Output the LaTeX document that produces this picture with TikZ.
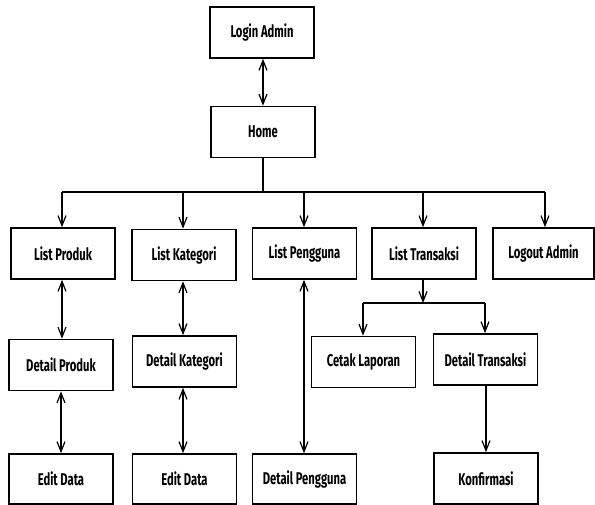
\documentclass[tikz,border=0pt]{standalone}
\usepackage{fontspec}
\setmainfont{Fira Sans}[FakeStretch=0.66]
\usetikzlibrary{arrows.meta}
\tikzset{
  box/.style={draw, line width=1.6pt, minimum width=104pt, minimum height=51pt, inner sep=0pt,
    font=\fontsize{17}{20}\selectfont\bfseries},
  conn/.style={line width=1.2pt},
  tip/.style={conn, -{Straight Barb[length=10pt,width=8pt,line width=1.2pt]}},
  both/.style={conn, {Straight Barb[length=10pt,width=8pt,line width=1.2pt]}-{Straight Barb[length=10pt,width=8pt,line width=1.2pt]}}
}
\begin{document}
\begin{tikzpicture}[x=1pt,y=-1pt]
\useasboundingbox (0,0) rectangle (595,504);
% top
\node[box] (login) at (262,32.5) {Login Admin};
\node[box] (home) at (263,132) {Home};
% list row
\node[box] (lprod) at (63,253.5) {List Produk};
\node[box] (lkat) at (184,255) {List Kategori};
\node[box] (lpeng) at (304.5,253.5) {List Pengguna};
\node[box] (ltrans) at (424,253.5) {List Transaksi};
\node[box, minimum width=101pt] (logout) at (543.5,253.5) {Logout Admin};
% middle row
\node[box] (dprod) at (61,365) {Detail Produk};
\node[box] (dkat) at (184.5,361.5) {Detail Kategori};
\node[box] (cetak) at (363.5,362) {Cetak Laporan};
\node[box] (dtrans) at (485.5,359.5) {Detail Transaksi};
% bottom row
\node[box, minimum height=50pt] (edit1) at (61,479) {Edit Data};
\node[box, minimum height=50pt] (edit2) at (184.5,479) {Edit Data};
\node[box, minimum height=50pt] (dpeng) at (304.5,479) {Detail Pengguna};
\node[box, minimum height=51pt] (konf) at (486,478.5) {Konfirmasi};
% coordinates
\coordinate (bus) at (263,192);
\coordinate (busL) at (62,192);
\coordinate (busR) at (545,192);
\coordinate (br) at (423,303);
\coordinate (brL) at (363,303);
\coordinate (brR) at (485,303);
% connectors
\draw[both] (login.south -| home.north) -- (home.north);
\draw[conn] (home.south) -- (bus);
\draw[conn] (busL) -- (busR);
\draw[tip] (busL) -- (busL |- lprod.north);
\draw[tip] (183,192) -- (183,0 |- lkat.north);
\draw[tip] (304,192) -- (304,0 |- lpeng.north);
\draw[tip] (423,192) -- (423,0 |- ltrans.north);
\draw[tip] (busR) -- (busR |- logout.north);
\draw[both] (62,0 |- lprod.south) -- (62,0 |- dprod.north);
\draw[both] (61,0 |- dprod.south) -- (61,0 |- edit1.north);
\draw[both] (183,0 |- lkat.south) -- (183,0 |- dkat.north);
\draw[both] (183,0 |- dkat.south) -- (183,0 |- edit2.north);
\draw[both] (304,0 |- lpeng.south) -- (304,0 |- dpeng.north);
\draw[tip] (br |- ltrans.south) -- (br);
\draw[conn] (brL) -- (brR);
\draw[tip] (brL) -- (brL |- cetak.north);
\draw[tip] (brR) -- (brR |- dtrans.north);
\draw[tip] (486,0 |- dtrans.south) -- (486,0 |- konf.north);
\end{tikzpicture}
\end{document}
